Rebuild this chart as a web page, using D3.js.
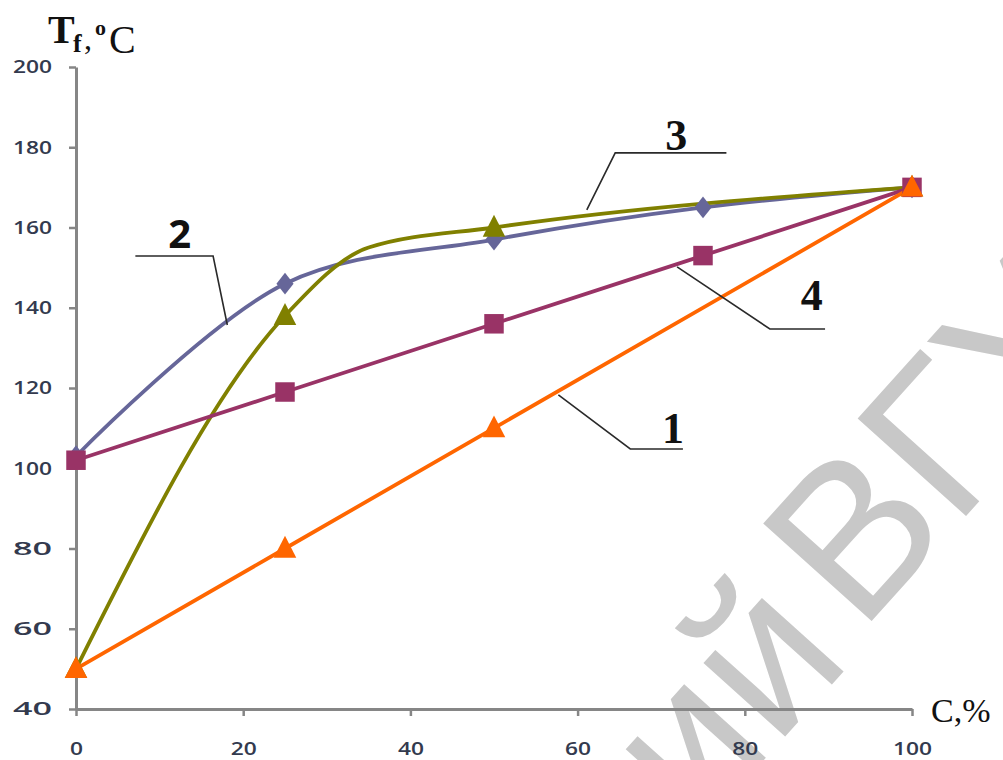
<!DOCTYPE html>
<html>
<head>
<meta charset="utf-8">
<script src="https://cdn.jsdelivr.net/npm/d3@7"></script>
<style>
  body { margin: 0; background: #fff; }
  svg { display: block; }
</style>
</head>
<body>
<svg id="chart" width="1003" height="760"></svg>
<script>
// Melting temperature T_f of the blend versus component content C, %
const series1X = [0, 25, 50, 100];
const series1Y = [50, 80, 110, 170];
const series2X = [0, 25, 50, 75, 100];
const series2Y = [103, 146, 157, 165, 170];
const series3X = [0, 25, 35, 50, 100];
const series3Y = [50, 138, 155, 160, 170];
const series3MarkerX = [0, 25, 50, 100];
const series4X = [0, 25, 50, 75, 100];
const series4Y = [102, 119, 136, 153, 170];

const xTicks = [0, 20, 40, 60, 80, 100];
const yTicks = [40, 60, 80, 100, 120, 140, 160, 180, 200];

// Curve labels with their leader lines (in data units)
const curveLabels = ["1", "2", "3", "4"];
const labelAnchorX = [71.4, 12.4, 71.8, 88.0];
const labelAnchorY = [106.3, 154.9, 179.3, 139.4];
const leaderX = [[57.7, 66.3, 72.6], [18.1, 16.4, 7.1], [61.1, 64.5, 77.8], [71.9, 83.0, 89.6]];
const leaderY = [[118.3, 104.8, 104.8], [135.7, 152.9, 152.9], [164.4, 178.6, 178.6], [150.2, 134.7, 134.7]];

const svg = d3.select("#chart");
const x = d3.scaleLinear().domain([0, 100]).range([76, 912]);
const y = d3.scaleLinear().domain([40, 200]).range([709, 67]);

// Faint watermark behind the plot
const wmFont = "'Liberation Sans', Arial, sans-serif";
svg.append("text")
  .attr("transform", "translate(890,620) rotate(-48)")
  .attr("x", -55).attr("text-anchor", "end")
  .attr("fill", "#c8c8c8")
  .style("font-family", wmFont).style("font-size", "208px")
  .text("Репозиторий");
svg.append("text")
  .attr("transform", "translate(860,634) rotate(-48)")
  .attr("fill", "#c8c8c8")
  .style("font-family", wmFont).style("font-size", "212px")
  .text("ВГУ");

// Axes
const axisColor = "#868686";
const yAxis = svg.append("g")
  .attr("transform", `translate(${x(0)},0)`)
  .call(d3.axisLeft(y).tickValues(yTicks).tickSize(7).tickSizeOuter(0).tickPadding(17));
const xAxis = svg.append("g")
  .attr("transform", `translate(0,${y(40)})`)
  .call(d3.axisBottom(x).tickValues(xTicks).tickSize(7).tickSizeOuter(0).tickPadding(26));
[yAxis, xAxis].forEach(g => {
  g.select(".domain").attr("stroke", axisColor).attr("stroke-width", 3);
  g.selectAll(".tick line").attr("stroke", axisColor).attr("stroke-width", 2.5);
  g.selectAll(".tick text")
    .attr("fill", "#333a4e")
    .style("font-family", "'Open Sans', sans-serif")
    .style("font-size", "18px")
    .style("font-weight", "600")
    .attr("lengthAdjust", "spacingAndGlyphs");
});
yAxis.selectAll(".tick text").attr("textLength", 39);
xAxis.selectAll(".tick text").each(function (d) {
  d3.select(this).attr("textLength", String(d).length * 13);
});

// Series
const series = [
  { xs: series2X, ys: series2Y, mx: series2X, color: "#666699", curve: d3.curveCatmullRom.alpha(0.5), shape: "diamond" },
  { xs: series3X, ys: series3Y, mx: series3MarkerX, color: "#808000", curve: d3.curveMonotoneX, shape: "triangle" },
  { xs: series4X, ys: series4Y, mx: series4X, color: "#993366", curve: d3.curveLinear, shape: "square" },
  { xs: series1X, ys: series1Y, mx: series1X, color: "#ff6600", curve: d3.curveLinear, shape: "triangle" }
];

series.forEach(s => {
  const pts = s.xs.map((v, i) => [v, s.ys[i]]);
  svg.append("path")
    .datum(pts)
    .attr("fill", "none")
    .attr("stroke", s.color)
    .attr("stroke-width", 3.8)
    .attr("stroke-linejoin", "round")
    .attr("d", d3.line().x(d => x(d[0])).y(d => y(d[1])).curve(s.curve));
});

const diamond = {
  draw(ctx, size) {
    const w = Math.sqrt(size) * 0.44, h = Math.sqrt(size) * 0.56;
    ctx.moveTo(0, -h); ctx.lineTo(w, 0); ctx.lineTo(0, h); ctx.lineTo(-w, 0); ctx.closePath();
  }
};
const triangle = {
  draw(ctx, size) {
    const s = Math.sqrt(size);
    ctx.moveTo(0, -0.62 * s); ctx.lineTo(0.55 * s, 0.45 * s); ctx.lineTo(-0.55 * s, 0.45 * s); ctx.closePath();
  }
};
const shapes = { diamond: diamond, triangle: triangle, square: d3.symbolSquare };
const sizes = { diamond: 380, triangle: 420, square: 380 };

series.forEach(s => {
  const pts = s.mx.map(v => [v, s.ys[s.xs.indexOf(v)]]);
  svg.append("g").selectAll("path")
    .data(pts)
    .join("path")
    .attr("transform", d => `translate(${x(d[0])},${y(d[1])})`)
    .attr("fill", s.color)
    .attr("d", d3.symbol().type(shapes[s.shape]).size(sizes[s.shape]));
});

// Leader lines and curve numbers
curveLabels.forEach((lab, i) => {
  const pts = leaderX[i].map((v, j) => [v, leaderY[i][j]]);
  svg.append("path")
    .datum(pts)
    .attr("fill", "none")
    .attr("stroke", "#2a2a2a")
    .attr("stroke-width", 1.6)
    .attr("d", d3.line().x(d => x(d[0])).y(d => y(d[1])));
  svg.append("text")
    .attr("x", x(labelAnchorX[i]))
    .attr("y", y(labelAnchorY[i]))
    .attr("text-anchor", "middle")
    .attr("fill", "#111")
    .style("font-family", lab === "2" ? "'Open Sans', sans-serif" : "'Liberation Serif', serif")
    .style("font-weight", "bold")
    .style("font-size", lab === "2" ? "40px" : "44px")
    .text(lab);
});

// Axis titles
const serif = "'Liberation Serif', 'Times New Roman', serif";
const t = svg.append("g").attr("fill", "#111").style("font-family", serif);
t.append("text").attr("x", 48).attr("y", 43).style("font-size", "40px").style("font-weight", "bold").text("T");
t.append("text").attr("x", 73).attr("y", 52).style("font-size", "26px").style("font-weight", "bold").text("f");
t.append("text").attr("x", 84).attr("y", 49).style("font-size", "32px").text(",");
t.append("text").attr("x", 95).attr("y", 35).style("font-size", "22px").style("font-weight", "bold").text("o");
t.append("text").attr("x", 109).attr("y", 53).style("font-size", "40px").text("C");
t.append("text").attr("x", 931).attr("y", 722).style("font-size", "34px").text("C,%");
</script>
</body>
</html>
